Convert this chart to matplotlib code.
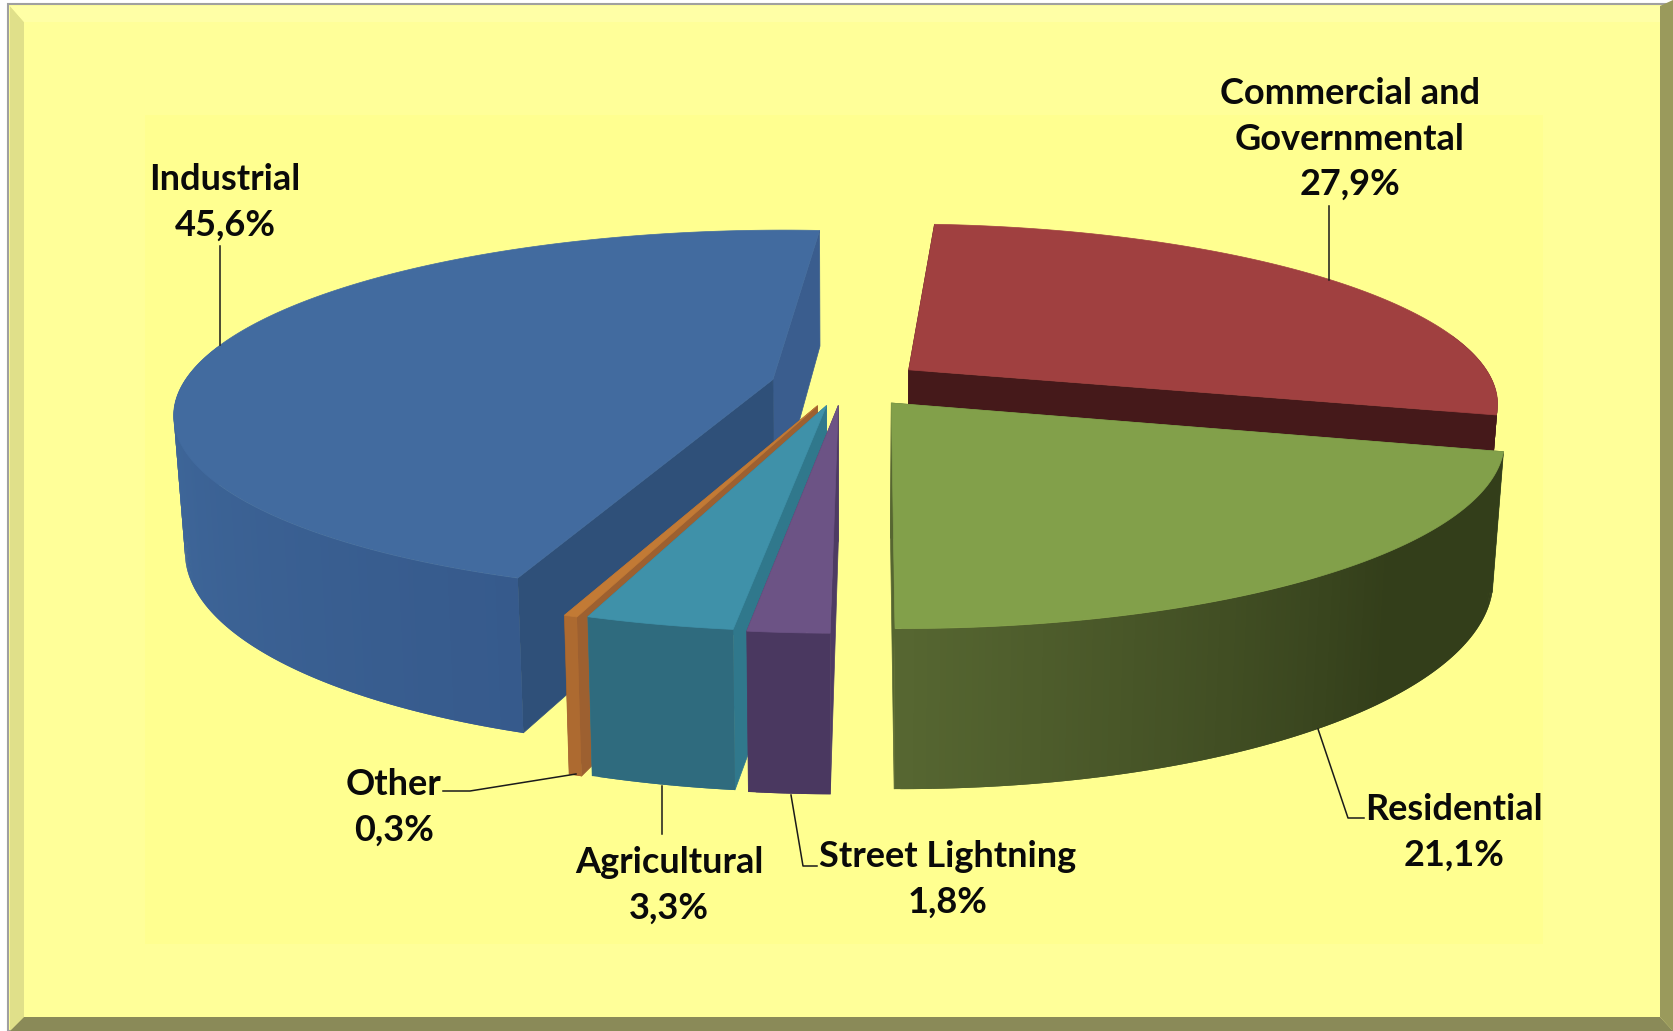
import numpy as np
import matplotlib
matplotlib.use("Agg")
import matplotlib.pyplot as plt
from matplotlib.patches import Polygon, Rectangle

# ---- data ----
categories = ["Street Lightning", "Agricultural", "Other", "Industrial",
              "Commercial and\nGovernmental", "Residential"]
shares = [1.8, 3.3, 0.3, 45.6, 27.9, 21.1]

# ---- style (same order as categories) ----
top_colors = ["#6c5385", "#3f91a9", "#c27a35", "#426b9f", "#a04040", "#82a04a"]
wall_from = ["#4e3b63", "#2f7182", "#ad6a30", "#40699c", "#45191a", "#566631"]
wall_to = ["#4a3860", "#2f6b7e", "#ad6a30", "#365a8c", "#45191a", "#333e1a"]
cut_lo = ["#4e3b63", "#30788c", "#9d6030", "#3a5d8e", "#45191a", "#566631"]  # cut at the low angle
cut_hi = ["#4e3b63", "#30788c", "#9d6030", "#2f5079", "#45191a", "#566631"]  # cut at the high angle
explode = [70, 72, 75, 72, 82, 78]
radius = [592, 588, 588, 590, 586, 590]
draw_order = [4, 5, 3, 2, 1, 0]
label_xy = [(948, 879), (669, 885), (394, 807), (225, 202), (1350, 139), (1454, 832)]
leaders = [[(791, 795), (803, 866), (817, 866)],
           [(662, 786), (662, 834)],
           [(443, 791), (470, 791), (576, 774)],
           [(220, 246), (220, 345)],
           [(1329, 206), (1329, 280)],
           [(1318, 729), (1348, 818), (1364, 818)]]

W, H = 1673, 1031
CX, CY = 843, 384
K, D = 0.301, 3300
H0, H1, SHRINK = 21, 112, 0.983
START = -90.55


def top_pt(X, Y):
    s = D / (D + Y)
    return CX + X * s, CY - K * Y * s


def bot_pt(X, Y):
    s = D / (D + Y)
    x, y = top_pt(X, Y)
    return CX + (x - CX) * SHRINK, y + H0 + H1 * s


def mix(c1, c2, t):
    a, b = np.array(matplotlib.colors.to_rgb(c1)), np.array(matplotlib.colors.to_rgb(c2))
    return tuple(a + (b - a) * t)


fig = plt.figure(figsize=(W / 100, H / 100), dpi=100, facecolor="white")
ax = fig.add_axes([0, 0, 1, 1])
ax.set_xlim(0, W)
ax.set_ylim(H, 0)
ax.axis("off")

# frame
ax.add_patch(Polygon([(8, 4), (W, 4), (W, H), (8, H)], fc="#ffff99", ec="#a0a0a0", lw=1.5))
ax.add_patch(Polygon([(10, 6), (24, 22), (24, 1017), (10, H)], fc="#e0e08a", ec="none"))
ax.add_patch(Polygon([(10, 6), (1661, 6), (1661, 22), (24, 22)], fc="#ffffa6", ec="none"))
ax.add_patch(Polygon([(1660, 6), (W, 0), (W, H), (1660, 1017)], fc="#9a9a5c", ec="none"))
ax.add_patch(Polygon([(10, H), (24, 1017), (1660, 1017), (W, H)], fc="#8a8a58", ec="none"))
ax.add_patch(Rectangle((145, 115), 1398, 829, fc="#ffff90", ec="none"))

slices = []
a0 = START
for v in shares:
    a1 = a0 - v * 360 / sum(shares)  # clockwise
    slices.append((a1, a0))
    a0 = a1

for i in draw_order:
    lo, hi = slices[i]
    mid = np.radians((lo + hi) / 2)
    ox, oy = explode[i] * np.cos(mid), explode[i] * np.sin(mid)
    R = radius[i]
    th = np.radians(np.linspace(lo, hi, max(8, int(hi - lo) * 2)))
    rx, ry = ox + R * np.cos(th), oy + R * np.sin(th)
    # cut faces
    for idx, col in ((0, cut_lo[i]), (-1, cut_hi[i])):
        quad = [top_pt(ox, oy), top_pt(rx[idx], ry[idx]), bot_pt(rx[idx], ry[idx]), bot_pt(ox, oy)]
        ax.add_patch(Polygon(quad, fc=col, ec=col, lw=0.5))
    # outer wall, front-facing bands only; each band overlaps the next, so no seams show
    n = len(th) - 1
    for j in range(n):
        if np.sin(th[j]) > 0.2:
            continue
        deg = np.degrees(th[j]) % 360
        if i == 5:
            t = np.clip((deg - 270) / 45, 0, 1)
        else:
            t = np.clip((deg - 180) / 70, 0, 1)
        col = mix(wall_from[i], wall_to[i], t)
        j2 = min(j + 2, n)
        seg = range(j, j2 + 1)
        quad = [top_pt(rx[q], ry[q]) for q in seg] + [bot_pt(rx[q], ry[q]) for q in reversed(seg)]
        ax.add_patch(Polygon(quad, fc=col, ec="none"))
    # top surface
    pts = [top_pt(ox, oy)] + [top_pt(x, y) for x, y in zip(rx, ry)]
    ax.add_patch(Polygon(pts, fc=top_colors[i], ec=top_colors[i], lw=0.5))

# leaders and labels
for seg in leaders:
    xs, ys = zip(*seg)
    ax.plot(xs, ys, color="#1a1a1a", lw=1.1, solid_joinstyle="round")

for name, v, (x, y) in zip(categories, shares, label_xy):
    txt = name + "\n" + f"{v:.1f}".replace(".", ",") + "%"
    ax.text(x, y, txt, ha="center", va="center", family="Lato", weight="bold",
            fontsize=26, color="#0a0a0a", linespacing=1.47)

fig.savefig("out.png", dpi=100)
